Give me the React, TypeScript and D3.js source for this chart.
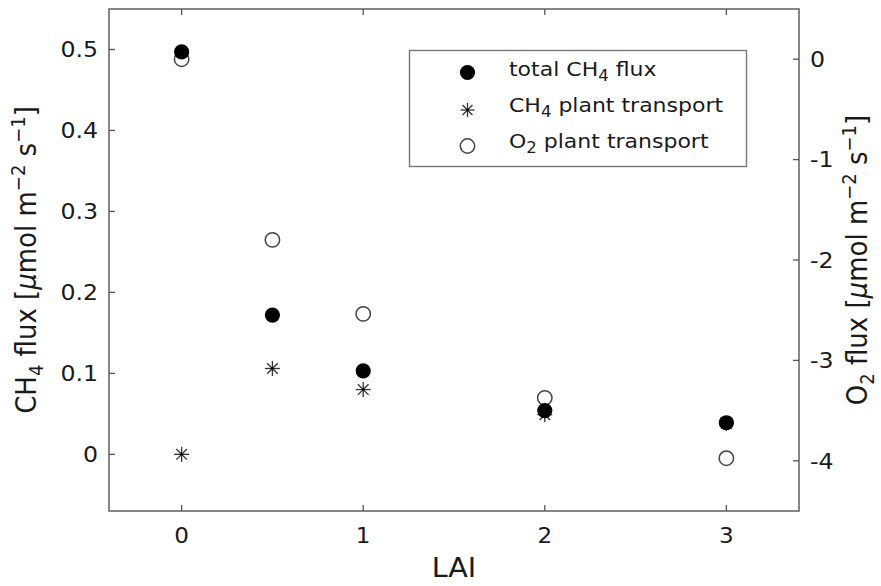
import React from "react";
import * as d3 from "d3";

const lai = [0, 0.5, 1, 2, 3];
const totalCH4 = [0.497, 0.172, 0.103, 0.054, 0.039];
const ch4Plant = [0.0, 0.106, 0.08, 0.049, 0.038];
const o2Plant = [0.0, -1.8, -2.537, -3.373, -3.974];
const xTicks = [0, 1, 2, 3];
const yLeftTicks = [0, 0.1, 0.2, 0.3, 0.4, 0.5];
const yRightTicks = [0, -1, -2, -3, -4];

const W = 881, H = 586;
const L = 109, R = 799, T = 9, B = 511;
const FONT = "DejaVu Sans, sans-serif";
const TXT = "#1a1a1a";
const AX = "#555";
const SX = 1.1;

function Star({ cx, cy, r, color }: { cx: number; cy: number; r: number; color: string }) {
  const angles = [0, 45, 90, 135];
  return (
    <g>
      {angles.map((a) => {
        const rad = (a * Math.PI) / 180;
        const dx = Math.cos(rad) * r, dy = Math.sin(rad) * r;
        return <line key={a} x1={cx - dx} y1={cy - dy} x2={cx + dx} y2={cy + dy} stroke={color} strokeWidth={1.3} />;
      })}
      <circle cx={cx} cy={cy} r={1.3} fill="#000" />
    </g>
  );
}

export default function App() {
  const x = d3.scaleLinear().domain([-0.4, 3.4]).range([L, R]);
  const yL = d3.scaleLinear().domain([-0.07, 0.55]).range([B, T]);
  const yR = d3.scaleLinear().domain([-4.5, 0.5]).range([B, T]);
  const fmtL = (v: number) => (v === 0 ? "0" : d3.format(".1f")(v));
  const fmtR = (v: number) => (v === 0 ? "0" : "-" + Math.abs(v));
  const cx = (L + R) / 2;
  const midY = (T + B) / 2;

  return (
    <svg width={W} height={H} style={{ position: "absolute", left: 0, top: 0, background: "#fff" }} fontFamily={FONT}>
      <rect x={0} y={0} width={W} height={H} fill="#fff" />
      {/* frame */}
      <rect x={L} y={T} width={R - L} height={B - T} fill="none" stroke={AX} strokeWidth={1.4} />
      {/* x ticks */}
      {xTicks.map((t) => (
        <g key={"x" + t}>
          <line x1={x(t)} x2={x(t)} y1={B} y2={B - 6} stroke={AX} strokeWidth={1.3} />
          <line x1={x(t)} x2={x(t)} y1={T} y2={T + 6} stroke={AX} strokeWidth={1.3} />
          <text transform={`translate(${x(t)},543) scale(${SX},1)`} textAnchor="middle" fontSize={21} fill={TXT}>{t}</text>
        </g>
      ))}
      {/* left ticks */}
      {yLeftTicks.map((t) => (
        <g key={"l" + t}>
          <line x1={L} x2={L + 6} y1={yL(t)} y2={yL(t)} stroke={AX} strokeWidth={1.3} />
          <text transform={`translate(98,${yL(t) + 7.8}) scale(${SX},1)`} textAnchor="end" fontSize={21.5} fill={TXT}>{fmtL(t)}</text>
        </g>
      ))}
      {/* right ticks */}
      {yRightTicks.map((t) => (
        <g key={"r" + t}>
          <line x1={R} x2={R - 6} y1={yR(t)} y2={yR(t)} stroke={AX} strokeWidth={1.3} />
          <text transform={`translate(810,${yR(t) + 7.8}) scale(${SX},1)`} textAnchor="start" fontSize={21.5} fill={TXT}>{fmtR(t)}</text>
        </g>
      ))}
      {/* axis labels */}
      <text transform={`translate(${cx},577) scale(${SX},1)`} textAnchor="middle" fontSize={26} fill={TXT}>LAI</text>
      <text transform={`translate(36,${midY}) scale(${SX},1) rotate(-90)`} textAnchor="middle" fontSize={26} fill={TXT}>
        CH<tspan fontSize={18} dy={6}>4</tspan><tspan dy={-6}> flux [</tspan><tspan fontStyle="italic">μ</tspan>mol m<tspan fontSize={18} dy={-10}>−2</tspan><tspan dy={10}> s</tspan><tspan fontSize={18} dy={-10}>−1</tspan><tspan dy={10}>]</tspan>
      </text>
      <text transform={`translate(867,${midY}) scale(${SX},1) rotate(-90)`} textAnchor="middle" fontSize={26} fill={TXT}>
        O<tspan fontSize={18} dy={6}>2</tspan><tspan dy={-6}> flux [</tspan><tspan fontStyle="italic">μ</tspan>mol m<tspan fontSize={18} dy={-10}>−2</tspan><tspan dy={10}> s</tspan><tspan fontSize={18} dy={-10}>−1</tspan><tspan dy={10}>]</tspan>
      </text>
      {/* data: stars, open, filled */}
      {lai.map((v, i) => (
        <Star key={"s" + i} cx={x(v)} cy={yL(ch4Plant[i])} r={7.5} color="#333" />
      ))}
      {lai.map((v, i) => (
        <circle key={"o" + i} cx={x(v)} cy={yR(o2Plant[i])} r={7.2} fill="none" stroke="#444" strokeWidth={1.5} />
      ))}
      {lai.map((v, i) => (
        <circle key={"f" + i} cx={x(v)} cy={yL(totalCH4[i])} r={7.6} fill="#000" />
      ))}
      {/* legend */}
      <rect x={409.5} y={50.5} width={337} height={116} fill="#fff" stroke="#777" strokeWidth={1.4} />
      <circle cx={467.5} cy={72.5} r={7.6} fill="#000" />
      <Star cx={467.5} cy={110} r={7} color="#333" />
      <circle cx={467.5} cy={146} r={7.2} fill="none" stroke="#444" strokeWidth={1.5} />
      <text transform={`translate(509,76) scale(${SX},1)`} fontSize={20} fill={TXT}>
        total CH<tspan fontSize={15} dy={5}>4</tspan><tspan dy={-5}> flux</tspan>
      </text>
      <text transform={`translate(509,112) scale(${SX},1)`} fontSize={20} fill={TXT}>
        CH<tspan fontSize={15} dy={5}>4</tspan><tspan dy={-5}> plant transport</tspan>
      </text>
      <text transform={`translate(509,148) scale(${SX},1)`} fontSize={20} fill={TXT}>
        O<tspan fontSize={15} dy={5}>2</tspan><tspan dy={-5}> plant transport</tspan>
      </text>
    </svg>
  );
}
